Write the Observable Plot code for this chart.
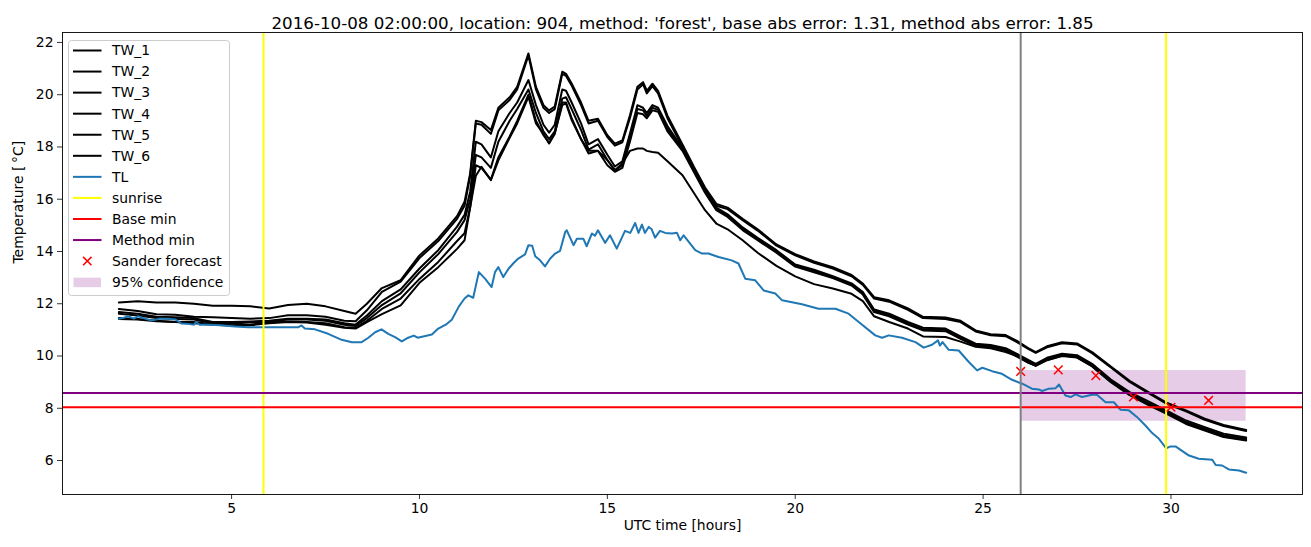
<!DOCTYPE html>
<html><head><meta charset="utf-8">
<script src="https://cdn.jsdelivr.net/npm/d3@7"></script>
<script src="https://cdn.jsdelivr.net/npm/@observablehq/plot@0.6"></script>
<style>
body{margin:0;background:#fff;}
#wrap{position:relative;width:1311px;height:547px;}
</style></head><body><div id="wrap"></div>
<script>
// ---------- data ----------
const twHours = [2,2.5,3,3.5,4,4.5,5,5.5,6,6.5,
  7,7.5,8,8.3,8.6,9,9.5,10,10.5,11,
  11.2,11.35,11.5,11.65,11.9,12.1,12.4,12.6,12.9,13.1,
  13.3,13.45,13.6,13.8,13.9,14.05,14.3,14.5,14.75,15,
  15.2,15.4,15.6,15.8,15.95,16.05,16.2,16.35,16.6,17,
  17.3,17.6,17.9,18.2,18.6,19,19.5,20,20.5,21,
  21.5,21.8,22.1,22.5,23,23.4,24,24.4,24.8,25.2,
  25.6,25.9,26.2,26.4,26.7,27.1,27.5,27.9,28.4,28.9,
  29.4,29.9,30.4,30.9,31.4,32];
const tw1 = [12.05,12.1,12.05,12.05,12.0,11.92,11.92,11.9,11.82,11.95,
  12.0,11.9,11.72,11.62,12.0,12.6,12.9,13.85,14.5,15.35,
  15.9,17.0,19.0,18.95,18.65,19.5,19.9,20.3,21.58,20.3,
  19.6,19.4,19.55,20.88,20.8,20.43,19.7,19.0,19.08,18.45,
  18.13,18.25,19.2,20.3,20.48,20.15,20.42,20.15,19.2,18.1,
  17.25,16.45,15.82,15.68,15.25,14.85,14.27,13.9,13.62,13.4,
  13.1,12.77,12.25,12.13,11.82,11.5,11.47,11.35,10.98,10.83,
  10.8,10.58,10.3,10.15,10.37,10.53,10.48,10.15,9.6,9.05,
  8.62,8.2,7.92,7.6,7.36,7.17];
const tw2 = [11.8,11.72,11.6,11.58,11.5,11.48,11.45,11.43,11.45,11.56,
  11.56,11.5,11.35,11.33,11.75,12.45,12.85,13.75,14.4,15.25,
  15.75,16.9,18.9,18.85,18.5,19.4,19.8,20.2,21.5,20.2,
  19.5,19.3,19.45,20.8,20.72,20.35,19.6,18.9,19.0,18.38,
  18.05,18.18,19.1,20.2,20.4,20.05,20.33,20.05,19.1,18.0,
  17.15,16.38,15.75,15.62,15.2,14.8,14.22,13.85,13.57,13.35,
  13.05,12.72,12.2,12.08,11.77,11.45,11.42,11.3,10.94,10.79,
  10.76,10.53,10.27,10.12,10.33,10.49,10.44,10.11,9.56,9.01,
  8.58,8.16,7.88,7.56,7.32,7.13];
const tw3 = [11.68,11.62,11.5,11.48,11.45,11.3,11.3,11.32,11.35,11.43,
  11.43,11.4,11.25,11.2,11.55,12.1,12.55,13.35,14.05,14.95,
  15.4,16.3,18.2,18.1,17.6,18.6,19.3,19.7,20.56,19.6,
  18.85,18.55,18.85,20.2,20.15,19.7,18.9,18.1,18.3,17.7,
  17.25,17.45,18.5,19.6,19.5,19.3,19.6,19.5,18.8,17.95,
  17.15,16.35,15.68,15.42,14.92,14.52,14.05,13.5,13.3,13.05,
  12.78,12.45,11.78,11.62,11.3,11.08,11.05,10.75,10.47,10.42,
  10.3,10.08,9.85,9.7,9.93,10.09,10.03,9.7,9.1,8.62,
  8.26,7.9,7.53,7.28,7.03,6.88];
const tw4 = [11.62,11.55,11.45,11.42,11.4,11.25,11.24,11.28,11.32,11.4,
  11.4,11.35,11.2,11.15,11.45,11.95,12.4,13.2,13.9,14.75,
  15.2,16.0,17.7,17.6,17.2,18.2,19.0,19.45,20.2,19.3,
  18.6,18.3,18.6,19.85,19.9,19.45,18.65,17.9,18.1,17.5,
  17.1,17.3,18.35,19.45,19.4,19.2,19.5,19.42,18.7,17.9,
  17.1,16.3,15.62,15.38,14.88,14.48,14.0,13.45,13.25,13.0,
  12.75,12.4,11.72,11.57,11.25,11.02,11.0,10.7,10.42,10.38,
  10.26,10.03,9.8,9.66,9.88,10.04,9.98,9.65,9.05,8.57,
  8.2,7.85,7.47,7.22,6.97,6.83];
const tw5 = [11.45,11.42,11.35,11.3,11.3,11.22,11.18,11.2,11.28,11.32,
  11.3,11.25,11.1,11.08,11.35,11.8,12.2,12.95,13.6,14.4,
  14.7,15.7,17.3,17.2,16.75,17.6,18.4,19.0,20.0,19.0,
  18.45,18.15,18.5,19.7,19.7,19.1,18.3,17.75,17.85,17.3,
  17.05,17.2,18.2,19.3,19.25,19.1,19.4,19.35,18.6,17.85,
  17.05,16.25,15.58,15.32,14.82,14.43,13.95,13.42,13.2,12.98,
  12.7,12.35,11.68,11.52,11.2,10.98,10.95,10.66,10.38,10.34,
  10.22,9.98,9.75,9.62,9.84,10.0,9.94,9.6,9.0,8.5,
  8.12,7.78,7.4,7.15,6.9,6.77];
const tw6 = [11.42,11.4,11.33,11.3,11.25,11.2,11.17,11.18,11.25,11.3,
  11.28,11.2,11.08,11.05,11.3,11.6,11.94,12.8,13.4,14.1,
  14.43,15.7,16.9,17.24,16.73,17.49,18.35,18.9,19.92,18.9,
  18.5,18.13,18.52,19.6,19.67,19.03,18.3,17.85,17.85,17.5,
  17.11,17.37,17.85,17.94,17.94,17.85,17.81,17.78,17.45,16.92,
  16.25,15.58,15.07,14.85,14.43,13.95,13.45,13.05,12.75,12.58,
  12.38,12.1,11.52,11.3,11.05,10.75,10.73,10.55,10.35,10.3,
  10.15,10.0,9.75,9.63,9.85,10.02,9.95,9.62,9.02,8.52,
  8.15,7.82,7.43,7.18,6.92,6.79];
const tlHours = [2.0,2.1,2.25,2.4,2.51,2.7,2.87,3.1,3.31,3.5,
  3.67,3.9,4.0,4.05,4.15,4.38,4.7,5.09,5.44,5.98,
  6.5,6.77,6.86,6.95,7.22,7.57,7.93,8.2,8.46,8.64,
  8.82,8.99,9.17,9.35,9.53,9.7,9.85,9.95,10.1,10.33,
  10.5,10.7,10.86,11.05,11.2,11.3,11.43,11.58,11.75,11.92,
  12.01,12.1,12.23,12.37,12.5,12.63,12.81,12.9,13.0,13.08,
  13.21,13.34,13.48,13.61,13.74,13.88,13.92,14.1,14.19,14.36,
  14.45,14.59,14.67,14.75,14.94,15.07,15.25,15.47,15.61,15.74,
  15.83,15.92,16.0,16.1,16.18,16.27,16.4,16.54,16.72,16.85,
  16.94,17.03,17.34,17.52,17.69,17.96,18.31,18.49,18.67,18.93,
  19.16,19.47,19.65,20.18,20.62,21.07,21.42,21.69,22.13,22.31,
  22.49,22.84,23.2,23.42,23.64,23.8,23.85,23.92,24.08,24.35,
  24.62,24.84,24.98,25.24,25.5,25.77,26.04,26.3,26.48,26.57,
  26.75,26.93,27.02,27.19,27.33,27.46,27.63,27.9,28.03,28.26,
  28.48,28.66,28.88,29.1,29.32,29.5,29.68,29.87,29.99,30.12,
  30.48,30.74,31.1,31.19,31.36,31.54,31.81,32.0];
const tlTemp = [11.43,11.45,11.52,11.43,11.52,11.43,11.36,11.43,11.43,11.4,
  11.24,11.22,11.2,11.3,11.2,11.2,11.18,11.13,11.1,11.1,
  11.1,11.1,11.17,11.05,11.02,10.85,10.62,10.53,10.53,10.7,
  10.91,11.02,10.85,10.72,10.56,10.7,10.78,10.7,10.75,10.82,
  11.05,11.2,11.39,11.9,12.2,12.32,12.23,13.21,12.95,12.64,
  13.21,13.4,13.02,13.34,13.55,13.73,13.89,14.24,14.22,13.82,
  13.66,13.43,13.73,13.92,14.02,14.75,14.81,14.24,14.49,14.49,
  14.2,14.69,14.6,14.81,14.33,14.62,14.11,14.79,14.71,15.09,
  14.71,15.03,14.71,14.94,14.85,14.53,14.79,14.71,14.69,14.72,
  14.43,14.62,14.05,13.92,13.92,13.79,13.66,13.54,12.96,12.9,
  12.51,12.39,12.13,11.98,11.81,11.81,11.62,11.3,10.79,10.7,
  10.79,10.7,10.53,10.32,10.43,10.6,10.4,10.53,10.24,10.21,
  9.77,9.45,9.55,9.42,9.32,9.09,8.94,8.75,8.72,8.66,
  8.75,8.77,8.91,8.49,8.43,8.53,8.43,8.52,8.52,8.23,
  8.23,7.94,7.92,7.66,7.34,7.05,6.83,6.47,6.54,6.54,
  6.19,6.07,6.03,5.83,5.81,5.66,5.62,5.53];
const sunriseHours = [5.85, 29.87];
const nowHours = [26];
const baseMin = [8.04];
const methodMin = [8.58];
const sanderHours = [26, 27, 28, 29, 30, 31];
const sanderTemp = [9.41, 9.47, 9.25, 8.43, 8.04, 8.30];
const bandHours = [26, 32];
const bandLow = [7.5, 7.5];
const bandHigh = [9.45, 9.45];
const xTicks = [5, 10, 15, 20, 25, 30];
const yTicks = [6, 8, 10, 12, 14, 16, 18, 20, 22];
const twNames = ["TW_1","TW_2","TW_3","TW_4","TW_5","TW_6"];
const titleText = "2016-10-08 02:00:00, location: 904, method: 'forest', base abs error: 1.31, method abs error: 1.85";
const xLabel = "UTC time [hours]";
const yLabel = "Temperature [\u2009°C]";
const legendLabels = ["TW_1","TW_2","TW_3","TW_4","TW_5","TW_6","TL","sunrise","Base min","Method min","Sander forecast","95% confidence"];

// ---------- tables ----------
const twSeries = [tw1, tw2, tw3, tw4, tw5, tw6];
const twData = twSeries.flatMap((vals, k) => vals.map((v, i) => ({name: twNames[k], h: twHours[i], t: v})));
const tlData = tlHours.map((h, i) => ({h, t: tlTemp[i]}));
const sanderData = sanderHours.map((h, i) => ({h, t: sanderTemp[i]}));
const bandData = bandHours.map((h, i) => ({h, lo: bandLow[i], hi: bandHigh[i]}));

const font = "DejaVu Sans";
const chart = Plot.plot({
  width: 1311, height: 547,
  marginLeft: 62, marginRight: 9, marginTop: 32, marginBottom: 53,
  style: {fontFamily: font, fontSize: "13.9px", background: "white", color: "black", overflow: "visible"},
  x: {domain: [0.5, 33.5]},
  y: {domain: [4.7, 22.38]},
  marks: [
    Plot.areaY(bandData, {x: "h", y1: "lo", y2: "hi", fill: "purple", fillOpacity: 0.2}),
    Plot.line(twData, {x: "h", y: "t", z: "name", stroke: "black", strokeWidth: 2}),
    Plot.line(tlData, {x: "h", y: "t", stroke: "#1f77b4", strokeWidth: 2}),
    Plot.ruleX(sunriseHours, {stroke: "yellow", strokeWidth: 2}),
    Plot.ruleY(baseMin, {stroke: "red", strokeWidth: 2}),
    Plot.ruleY(methodMin, {stroke: "purple", strokeWidth: 2}),
    Plot.dot(sanderData, {x: "h", y: "t", symbol: "times", r: 4, stroke: "red", strokeWidth: 1.5}),
    Plot.ruleX(nowHours, {stroke: "gray", strokeWidth: 2}),
    Plot.axisX({ticks: xTicks, tickSize: 5, tickPadding: 4, tickFormat: d => String(d), label: null, strokeWidth: 0.8}),
    Plot.axisY({ticks: yTicks, tickSize: 5, tickPadding: 4, tickFormat: d => String(d), label: null, strokeWidth: 0.8}),
    Plot.frame({stroke: "black", strokeWidth: 0.9}),
    Plot.text([titleText], {frameAnchor: "top", dy: -15, fontSize: 16.7, fill: "black"}),
    Plot.text([xLabel], {frameAnchor: "bottom", dy: 35, fontSize: 13.9, fill: "black"}),
    Plot.text([yLabel], {frameAnchor: "left", dx: -44, rotate: -90, fontSize: 13.9, fill: "black"})
  ]
});
const wrap = document.getElementById("wrap");
wrap.appendChild(chart);

// ---------- legend overlay ----------
const kinds = ["line","line","line","line","line","line","line","line","line","line","marker","patch"];
const colors = ["black","black","black","black","black","black","#1f77b4","yellow","red","purple","red","purple"];
const lg = d3.select(wrap).append("svg")
  .attr("width", 1311).attr("height", 547)
  .style("position", "absolute").style("left", "0px").style("top", "0px")
  .style("pointer-events", "none");
lg.append("rect").attr("x", 68.5).attr("y", 40.5).attr("width", 161).attr("height", 255)
  .attr("rx", 3).attr("fill", "white").attr("fill-opacity", 0.8).attr("stroke", "#cccccc");
legendLabels.forEach((lab, i) => {
  const cy = 50.5 + i * 21.06;
  if (kinds[i] === "line") {
    lg.append("line").attr("x1", 73).attr("x2", 101.5).attr("y1", cy).attr("y2", cy)
      .attr("stroke", colors[i]).attr("stroke-width", 2);
  } else if (kinds[i] === "marker") {
    const s = 4.2;
    lg.append("path").attr("d", `M${87.3-s},${cy-s}L${87.3+s},${cy+s}M${87.3-s},${cy+s}L${87.3+s},${cy-s}`)
      .attr("stroke", colors[i]).attr("stroke-width", 1.5).attr("fill", "none");
  } else {
    lg.append("rect").attr("x", 73.5).attr("y", cy - 4.5).attr("width", 27.5).attr("height", 9.5)
      .attr("fill", colors[i]).attr("fill-opacity", 0.2);
  }
  lg.append("text").attr("x", 112).attr("y", cy).attr("dy", "0.35em")
    .attr("font-family", font).attr("font-size", "13.9px").attr("fill", "black").text(lab);
});
</script>
</body></html>
